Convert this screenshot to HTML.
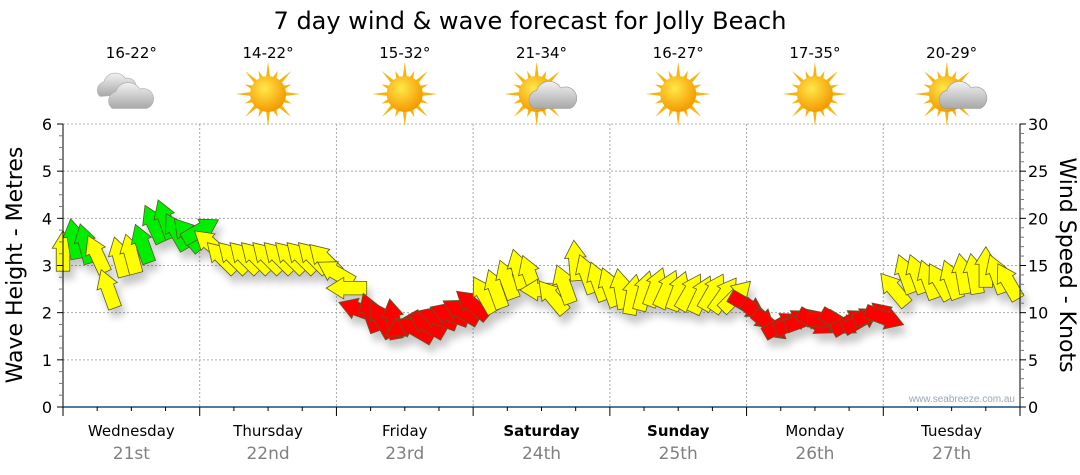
<!DOCTYPE html>
<html><head><meta charset="utf-8">
<style>
body{margin:0;background:#fff;width:1080px;height:475px;overflow:hidden;font-family:"DejaVu Sans","Liberation Sans",sans-serif;}
svg{display:block}
</style></head>
<body>
<svg id="chart" width="1080" height="475" viewBox="0 0 1080 475">
<defs>
<filter id="sh" x="-50%" y="-50%" width="200%" height="200%"><feGaussianBlur in="SourceAlpha" stdDeviation="4"/><feOffset dx="4" dy="8"/><feComponentTransfer><feFuncA type="linear" slope="0.22"/></feComponentTransfer><feMerge><feMergeNode/><feMergeNode in="SourceGraphic"/></feMerge></filter>
<radialGradient id="sun" cx="40%" cy="35%" r="65%"><stop offset="0" stop-color="#ffe84a"/><stop offset="1" stop-color="#f39a00"/></radialGradient>
<linearGradient id="cloud" x1="0" y1="0" x2="0" y2="1"><stop offset="0" stop-color="#f2f2f2"/><stop offset="1" stop-color="#a8a8a8"/></linearGradient>
</defs>
<text x="530" y="29" text-anchor="middle" font-size="24" fill="#000">7 day wind &amp; wave forecast for Jolly Beach</text>
<g id="grid"></g>
<g id="icons"></g>
<g id="marks" filter="url(#sh)"></g>
<g id="axes"></g>
<text x="1015" y="402" text-anchor="end" font-size="10" fill="#9aa6b4" font-family="Liberation Sans, sans-serif">www.seabreeze.com.au</text>
<text transform="translate(22,265) rotate(-90)" text-anchor="middle" font-size="22" fill="#000">Wave Height - Metres</text>
<text transform="translate(1060,265) rotate(90)" text-anchor="middle" font-size="22" fill="#000">Wind Speed - Knots</text>
</svg>
<script>
const days = ["Wednesday","Thursday","Friday","Saturday","Sunday","Monday","Tuesday"];
const dates = ["21st","22nd","23rd","24th","25th","26th","27th"];
const boldDays = [false,false,false,true,true,false,false];
const temps = ["16-22°","14-22°","15-32°","21-34°","16-27°","17-35°","20-29°"];
const weather = ["cloud","sun","sun","partly","sun","sun","partly"];
const waveTicks = [0,1,2,3,4,5,6];
const windTicks = [0,5,10,15,20,25,30];
// wind every 2 hours starting Wednesday 00:00
const windSpeed = [16.4,17.7,17.2,16.1,12.4,15.8,16.1,17.2,19.3,19.8,18.5,18.2,
 18.7,17.2,15.8,15.8,15.8,15.8,15.8,15.8,15.8,15.8,15.8,15.6,
 14.2,12.6,10.3,9.9,9.2,9.2,8.7,8.2,8.7,9.4,9.8,10.1,
 10.8,11.8,12.4,13.4,14.5,13.9,12.4,11.6,12.9,15.4,14.0,13.2,
 12.6,12.4,11.8,12.2,12.6,12.4,12.2,12.1,11.8,12.1,11.8,11.7,
 10.8,9.8,8.7,8.7,9.0,9.2,9.0,9.2,9.0,9.0,9.2,9.8,
 9.5,12.4,14.0,14.0,13.4,13.2,13.4,14.0,14.0,14.7,14.0,13.2];
const windDir = [0,-10,-15,-25,-20,-15,-15,-20,-25,-20,-30,-40,
 60,-50,-45,-45,-45,-45,-45,-45,-45,-45,-45,-45,
 -60,-90,-70,-20,-30,-10,-120,-60,-60,-70,-70,-60,
 -50,-30,-20,-20,-15,-20,-90,-40,-20,-5,-20,-20,
 -20,-10,10,15,20,25,20,30,25,30,35,45,
 120,130,130,60,60,70,120,90,120,60,60,70,
 110,-40,-20,-20,-20,-30,-20,-10,-10,0,-20,-30];
const windColor = ["y","g","g","y","y","y","y","g","g","g","g","g",
 "g","y","y","y","y","y","y","y","y","y","y","y",
 "y","y","r","r","r","r","r","r","r","r","r","r",
 "r","y","y","y","y","y","y","y","y","y","y","y",
 "y","y","y","y","y","y","y","y","y","y","y","y",
 "r","r","r","r","r","r","r","r","r","r","r","r",
 "r","y","y","y","y","y","y","y","y","y","y","y"];
const colors={y:"#ffff00",g:"#00ee00",r:"#ff0000"};
const X0=63,X1=1020,Y0=407,Y1=124;
const dayW=(X1-X0)/7;
const xTime=h=>X0+h*dayW/24;
const yWave=v=>Y0-v*(Y0-Y1)/6;
const yWind=v=>Y0-v*(Y0-Y1)/30;
const NS="http://www.w3.org/2000/svg";
function mk(tag,attrs,parent){const e=document.createElementNS(NS,tag);for(const k in attrs)e.setAttribute(k,attrs[k]);parent.appendChild(e);return e;}
const grid=document.getElementById('grid'),axes=document.getElementById('axes'),marks=document.getElementById('marks'),icons=document.getElementById('icons');
waveTicks.forEach(v=>{if(v===0)return;const l=mk('line',{x1:X0,x2:X1,y1:yWave(v),y2:yWave(v),stroke:'#aaa','stroke-dasharray':'2,2'},grid);

});
for(let i=1;i<7;i++){const l=mk('line',{x1:X0+i*dayW,x2:X0+i*dayW,y1:Y1,y2:Y0,stroke:'#aaa','stroke-dasharray':'2,2'},grid);

}
mk('line',{x1:X0,x2:X0,y1:Y1,y2:Y0+1,stroke:'#000'},axes);
mk('line',{x1:X1,x2:X1,y1:Y1,y2:Y0+1,stroke:'#000'},axes);
mk('line',{x1:X0,x2:X1,y1:Y0,y2:Y0,stroke:'#1c4f7a','stroke-width':1.5},axes);
for(let v=0;v<=24;v++){const y=Y0-v*(Y0-Y1)/24;mk('line',{x1:X0-(v%4?4:6),x2:X0,y1:y,y2:y,stroke:v%4?'#777':'#000'},axes);}
waveTicks.forEach(v=>{const t=mk('text',{x:X0-11,y:yWave(v)+6,'text-anchor':'end','font-size':16,fill:'#000'},axes);t.textContent=v;

});
for(let v=0;v<=30;v++){const y=yWind(v);mk('line',{x1:X1,x2:X1+(v%5?4:6),y1:y,y2:y,stroke:v%5?'#777':'#000'},axes);}
windTicks.forEach(v=>{const t=mk('text',{x:X1+8,y:yWind(v)+6,'font-size':16,fill:'#000'},axes);t.textContent=v;

});
for(let h=0;h<=168;h+=6){const x=xTime(h);mk('line',{x1:x,x2:x,y1:Y0,y2:Y0+(h%24?4:9),stroke:'#000'},axes);}
days.forEach((d,i)=>{const cx=X0+(i+0.5)*dayW;
const t=mk('text',{x:cx,y:436,'text-anchor':'middle','font-size':15,fill:'#000','font-weight':boldDays[i]?'bold':'normal'},axes);t.textContent=d;


const t2=mk('text',{x:cx,y:459,'text-anchor':'middle','font-size':17,fill:'#808080'},axes);t2.textContent=dates[i];


const t3=mk('text',{x:cx,y:58,'text-anchor':'middle','font-size':15,fill:'#000'},icons);t3.textContent=temps[i];


const g=mk('g',{transform:`translate(${cx},94) scale(1.2)`},icons);


if(weather[i]!=='cloud'){const sx=weather[i]==='partly'?-4:0;
for(let a=0;a<16;a++){const ang=a*Math.PI/8,r=a%2?21:27;mk('polygon',{points:`${sx+Math.cos(ang-0.12)*14},${Math.sin(ang-0.12)*14} ${sx+Math.cos(ang)*r},${Math.sin(ang)*r} ${sx+Math.cos(ang+0.12)*14},${Math.sin(ang+0.12)*14}`,fill:'#f6b40e'},g);}
mk('circle',{cx:sx,cy:0,r:15,fill:'url(#sun)'},g);}
if(weather[i]==='partly'){mk('path',{d:'M-6,12 a8,8 0 0 1 2,-15 a11,11 0 0 1 20,-2 a8,8 0 0 1 8,17 z',fill:'url(#cloud)',stroke:'#999','stroke-width':0.5},g);}
if(weather[i]==='cloud'){mk('path',{d:'M-26,2 a7,7 0 0 1 3,-12 a10,10 0 0 1 18,-3 a7,7 0 0 1 5,13 z',fill:'url(#cloud)',stroke:'#aaa','stroke-width':0.5},g);
mk('path',{d:'M-16,12 a8,8 0 0 1 3,-14 a11,11 0 0 1 20,-2 a8,8 0 0 1 6,16 z',fill:'url(#cloud)',stroke:'#aaa','stroke-width':0.5},g);}
});
windSpeed.forEach((s,k)=>{const x=xTime(k*2),y=yWind(s);
const p=mk('polygon',{points:'0,-16 8,-3 5,-3 5,14 -5,14 -5,-3 -8,-3',transform:`translate(${x},${y}) rotate(${windDir[k]}) scale(1.35)`,fill:colors[windColor[k]],stroke:'#5a5a2a','stroke-width':0.6},marks);

});
</script>
</body></html>
